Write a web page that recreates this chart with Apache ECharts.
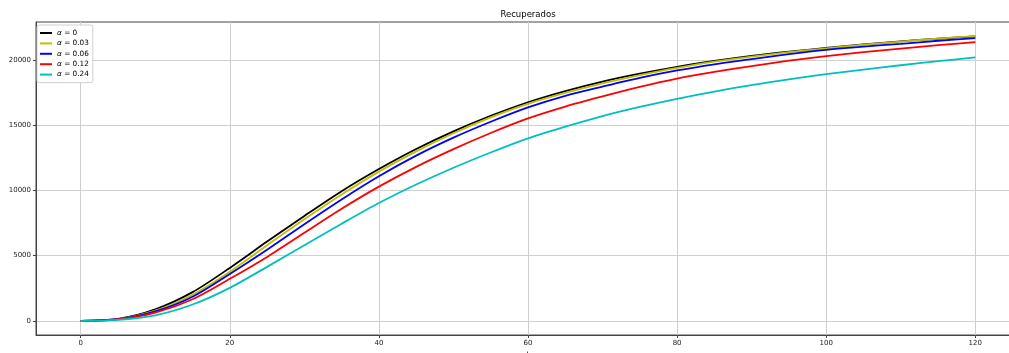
<!DOCTYPE html>
<html>
<head>
<meta charset="utf-8">
<script src="https://cdn.jsdelivr.net/npm/echarts@6/dist/echarts.min.js"></script>
<style>
  html, body { margin: 0; padding: 0; background: #fff; }
  #chart { width: 1009px; height: 353px; }
</style>
</head>
<body>
<div id="chart"></div>
<script>
const tValues = [0, 5, 10, 15, 20, 25, 30, 35, 40, 45, 50, 55, 60, 65, 70, 75, 80, 85, 90, 95, 100, 105, 110, 115, 120];
const alpha0 = [0, 150, 880, 2200, 4060, 6080, 8050, 9950, 11650, 13190, 14545, 15740, 16780, 17640, 18370, 18970, 19500, 19950, 20340, 20660, 20950, 21220, 21460, 21660, 21830];
const alpha003 = [0, 130, 780, 2000, 3770, 5800, 7790, 9690, 11450, 13010, 14400, 15620, 16660, 17490, 18220, 18860, 19410, 19890, 20280, 20620, 20920, 21200, 21440, 21670, 21860];
const alpha006 = [0, 120, 720, 1850, 3600, 5460, 7420, 9320, 11100, 12680, 14060, 15280, 16380, 17270, 17980, 18650, 19220, 19690, 20085, 20470, 20800, 21050, 21265, 21500, 21700];
const alpha012 = [0, 100, 620, 1650, 3220, 4900, 6760, 8600, 10300, 11820, 13180, 14420, 15540, 16450, 17230, 17960, 18600, 19110, 19560, 19970, 20320, 20630, 20900, 21160, 21400];
const alpha024 = [0, 70, 420, 1250, 2530, 4140, 5800, 7450, 9040, 10460, 11750, 12920, 14000, 14900, 15720, 16420, 17040, 17600, 18100, 18540, 18930, 19290, 19620, 19930, 20220];
const alphaNames = ["0", "0.03", "0.06", "0.12", "0.24"];
const xTicks = [0, 20, 40, 60, 80, 100, 120];
const yTicks = [0, 5000, 10000, 15000, 20000];

const font = "DejaVu Sans";
const colors = ["#000000", "#bfbf00", "#0000ff", "#ff0000", "#00bfbf"];
const seriesValues = [alpha0, alpha003, alpha006, alpha012, alpha024];

function pairs(vals) {
  return tValues.map((t, i) => [t, vals[i]]);
}

const mc = echarts.init(document.getElementById("chart"));

const option = {
  animation: false,
  textStyle: { fontFamily: font },
  graphic: [
    {
      type: "text",
      x: 528,
      y: 15,
      style: {
        text: "Recuperados",
        font: "8.5px 'DejaVu Sans'",
        fill: "#000",
        align: "center",
        verticalAlign: "middle",
      },
    },
  ],
  grid: {
    left: 36,
    top: 22,
    right: -11,
    bottom: 18,
    outerBoundsMode: "none",
    containLabel: false,
    show: true,
    borderColor: "#444",
    borderWidth: 1,
    backgroundColor: "transparent",
  },
  legend: {
    orient: "vertical",
    left: 37,
    top: 25,
    padding: [3, 4, 3, 3],
    backgroundColor: "#fff",
    borderColor: "#d0d0d0",
    borderWidth: 1,
    borderRadius: 2,
    icon: "rect",
    itemWidth: 12,
    itemHeight: 2,
    itemGap: 0.4,
    textStyle: {
      fontFamily: font,
      fontSize: 7.3,
      lineHeight: 10,
      color: "#000",
      rich: {
        a: { fontFamily: font, fontStyle: "italic", fontSize: 7.3, lineHeight: 10 },
      },
    },
    formatter: (name) => "{a|α} = " + name,
    data: alphaNames,
  },
  xAxis: {
    type: "value",
    min: -6,
    max: 126,
    name: "t",
    nameLocation: "middle",
    nameGap: 17,
    nameTextStyle: { fontFamily: font, fontSize: 8, color: "#000" },
    axisLine: { show: true, onZero: false, lineStyle: { color: "#444", width: 1 } },
    axisTick: { show: true, length: 3, lineStyle: { color: "#444" }, customValues: xTicks },
    axisLabel: { fontSize: 7, color: "#222", margin: 5, customValues: xTicks },
    splitLine: { show: true, lineStyle: { color: "#cfcfcf", width: 1 } },
  },
  yAxis: {
    type: "value",
    min: -1092,
    max: 22940,
    axisLine: { show: true, onZero: false, lineStyle: { color: "#444", width: 1 } },
    axisTick: { show: true, length: 3, lineStyle: { color: "#444" }, customValues: yTicks },
    axisLabel: { fontSize: 7, color: "#222", margin: 5, customValues: yTicks, formatter: (v) => String(v) },
    splitLine: { show: true, lineStyle: { color: "#cfcfcf", width: 1 } },
  },
  series: seriesValues.map((vals, i) => ({
    name: alphaNames[i],
    type: "line",
    data: pairs(vals),
    smooth: 0.3,
    showSymbol: false,
    symbol: "none",
    color: colors[i],
    lineStyle: { width: 1.8, color: colors[i] },
  })),
};

mc.setOption(option);
</script>
</body>
</html>
